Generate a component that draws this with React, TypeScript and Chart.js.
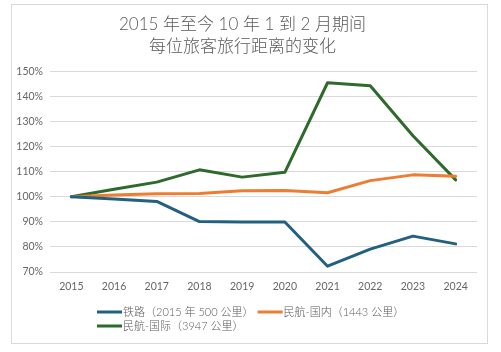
import React, { useEffect, useRef } from "react";
import { Chart, registerables } from "chart.js";

Chart.register(...registerables);

const years = ["2015", "2016", "2017", "2018", "2019", "2020", "2021", "2022", "2023", "2024"];
const rail = [100, 99.1, 98.1, 90.1, 89.9, 89.9, 72.3, 79.1, 84.3, 81.2];
const domestic = [100, 100.7, 101.2, 101.3, 102.4, 102.5, 101.6, 106.4, 108.7, 108.1];
const intl = [100, 103, 105.8, 110.7, 107.8, 109.7, 145.4, 144.2, 124.3, 106.7];
const seriesNames = ["铁路（2015 年 500 公里）", "民航-国内（1443 公里）", "民航-国际（3947 公里）"];
const seriesColors = ["#22607f", "#ed7d31", "#2d6a2b"];
const titleLines = ["2015 年至今 10 年 1 到 2 月期间", "每位旅客旅行距离的变化"];

const FONT = '"Lato", "Noto Sans CJK SC", sans-serif';
const GREY = "#595959";
const TICK_GREY = "#666666";

const legendPlugin = {
  id: "customLegend",
  afterDraw(chart: any) {
    const ctx = chart.ctx;
    ctx.save();
    ctx.font = `300 11px ${FONT}`;
    ctx.fillStyle = GREY;
    ctx.textBaseline = "middle";
    const lineLen = 25;
    const startX = 97;
    const rows = [
      { y: 312, items: [0, 1] },
      { y: 326, items: [2] },
    ];
    rows.forEach((row) => {
      let x = startX;
      row.items.forEach((i) => {
        ctx.strokeStyle = seriesColors[i];
        ctx.lineWidth = 3;
        ctx.beginPath();
        ctx.moveTo(x, row.y);
        ctx.lineTo(x + lineLen, row.y);
        ctx.stroke();
        ctx.fillText(seriesNames[i], x + lineLen + 1, row.y);
        x += lineLen + 1 + ctx.measureText(seriesNames[i]).width + 4;
      });
    });
    ctx.restore();
  },
};

export default function App() {
  const ref = useRef<HTMLCanvasElement>(null);
  useEffect(() => {
    const data = [rail, domestic, intl];
    const chart = new Chart(ref.current!, {
      type: "line",
      data: {
        labels: years,
        datasets: data.map((d, i) => ({
          label: seriesNames[i],
          data: d,
          borderColor: seriesColors[i],
          backgroundColor: seriesColors[i],
          borderWidth: 3,
          pointRadius: 0,
          tension: 0,
          borderJoinStyle: "round" as const,
          borderCapStyle: "round" as const,
        })),
      },
      options: {
        animation: false,
        responsive: false,
        maintainAspectRatio: false,
        layout: { padding: { left: 8, right: 24, top: 0, bottom: 0 } },
        plugins: {
          legend: { display: false },
          tooltip: { enabled: false },
          title: {
            display: true,
            text: titleLines,
            color: GREY,
            font: { family: FONT, size: 17, weight: 300, lineHeight: 1.3 },
            padding: { top: 13, bottom: 14 },
          },
        },
        scales: {
          x: {
            offset: true,
            grid: { display: false, drawTicks: false },
            border: { display: false },
            ticks: { color: TICK_GREY, font: { family: FONT, size: 10.5 }, padding: 8, maxRotation: 0 },
            afterFit(scale: any) {
              scale.height = 80;
            },
          },
          y: {
            min: 70,
            max: 150,
            grid: { color: "#d9d9d9", drawTicks: false, lineWidth: 1 },
            border: { display: false },
            ticks: {
              stepSize: 10,
              color: TICK_GREY,
              font: { family: FONT, size: 10.5 },
              padding: 7,
              callback: (v: any) => `${v}%`,
            },
            afterFit(scale: any) {
              scale.width = 42;
            },
          },
        },
      },
      plugins: [legendPlugin],
    });
    return () => chart.destroy();
  }, []);

  return (
    <div style={{ position: "absolute", left: 0, top: 0, width: 501, height: 352, background: "#fff" }}>
      <div
        style={{
          position: "absolute",
          left: 11,
          top: 4,
          width: 475,
          height: 338,
          border: "1px solid #d9d9d9",
        }}
      />
      <canvas ref={ref} width={501} height={352} style={{ position: "absolute", left: 0, top: 0, width: 501, height: 352 }} />
    </div>
  );
}
